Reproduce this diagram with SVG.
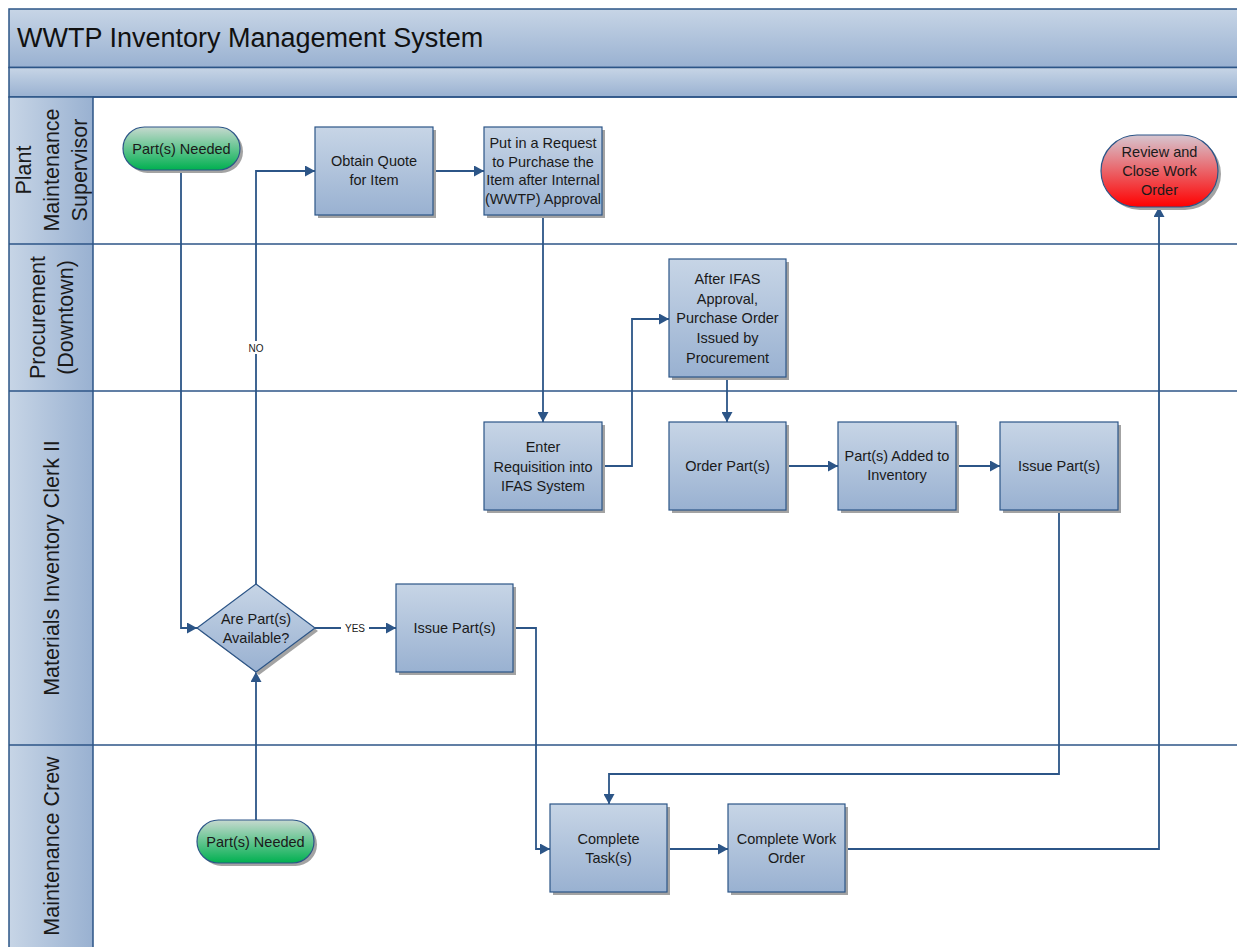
<svg xmlns="http://www.w3.org/2000/svg" width="1237" height="947" viewBox="0 0 1237 947">
<defs>
<linearGradient id="gBox" x1="0" y1="0" x2="0" y2="1">
<stop offset="0" stop-color="#c7d5e6"/>
<stop offset="1" stop-color="#99b1d1"/>
</linearGradient>
<linearGradient id="gLane" x1="0" y1="0" x2="1" y2="0">
<stop offset="0" stop-color="#c7d5e6"/>
<stop offset="1" stop-color="#99b1d1"/>
</linearGradient>
<linearGradient id="gGreen" x1="0" y1="0" x2="0" y2="1">
<stop offset="0" stop-color="#c6d9cf"/>
<stop offset="1" stop-color="#00b050"/>
</linearGradient>
<linearGradient id="gRed" x1="0" y1="0" x2="0" y2="1">
<stop offset="0" stop-color="#d6c6d0"/>
<stop offset="1" stop-color="#ff0000"/>
</linearGradient>
<marker id="arr" viewBox="0 0 10 11" refX="10" refY="5.5" markerWidth="10" markerHeight="11" markerUnits="userSpaceOnUse" orient="auto">
<path d="M0,0 L10,5.5 L0,11 z" fill="#2c5587"/>
</marker>
</defs>
<style>
.band{fill:url(#gBox);stroke:#2c5587;stroke-width:1.5}
.lanecol{fill:url(#gLane);stroke:#2c5587;stroke-width:1.5}
.div{stroke:#2c5587;stroke-width:1.5;fill:none}
.box{fill:url(#gBox);stroke:#2c5587;stroke-width:1.2}
.shadow{fill:#a3a3a3}
.green{fill:url(#gGreen);stroke:#2c5587;stroke-width:1.2}
.red{fill:url(#gRed);stroke:#2c5587;stroke-width:1.2}
.con{stroke:#2c5587;stroke-width:1.8;fill:none}
.t{font-family:"Liberation Sans",Arial,sans-serif;font-size:14.5px;fill:#1a1a1a;text-anchor:middle}
.lt{font-family:"Liberation Sans",Arial,sans-serif;font-size:21.5px;fill:#1a1a1a;text-anchor:middle}
.title{font-family:"Liberation Sans",Arial,sans-serif;font-size:27px;fill:#111}
.sm{font-family:"Liberation Sans",Arial,sans-serif;font-size:10px;fill:#1a1a1a;text-anchor:middle}
</style>
<rect width="1237" height="947" fill="#ffffff"/>

<g id="pool">
<rect class="band" x="9" y="9" width="1240" height="58.5"/>
<rect class="band" x="9" y="67.5" width="1240" height="29.5"/>
<text class="title" x="17" y="47">WWTP Inventory Management System</text>
<rect class="lanecol" x="9" y="97" width="84" height="860"/>
<line class="div" x1="93" y1="97" x2="1240" y2="97"/>
<line class="div" x1="9" y1="244" x2="1240" y2="244"/>
<line class="div" x1="9" y1="391" x2="1240" y2="391"/>
<line class="div" x1="9" y1="745" x2="1240" y2="745"/>
</g>

<g id="lane-labels">
<text class="lt" transform="translate(51,170) rotate(-90)"><tspan x="0" y="-20.5">Plant</tspan><tspan x="0" y="7.5">Maintenance</tspan><tspan x="0" y="35.5">Supervisor</tspan></text>
<text class="lt" transform="translate(51,317.5) rotate(-90)"><tspan x="0" y="-6.5">Procurement</tspan><tspan x="0" y="21.5">(Downtown)</tspan></text>
<text class="lt" transform="translate(51,568) rotate(-90)"><tspan x="0" y="7.5">Materials Inventory Clerk II</tspan></text>
<text class="lt" transform="translate(51,846) rotate(-90)"><tspan x="0" y="7.5">Maintenance Crew</tspan></text>
</g>

<g id="connectors">
<path class="con" d="M181,170 V628 H197" marker-end="url(#arr)"/>
<path class="con" d="M256,584 V171 H315" marker-end="url(#arr)"/>
<path class="con" d="M433,171 H484" marker-end="url(#arr)"/>
<path class="con" d="M543,215 V422" marker-end="url(#arr)"/>
<path class="con" d="M602,466 H632 V319 H669" marker-end="url(#arr)"/>
<path class="con" d="M727,377 V422" marker-end="url(#arr)"/>
<path class="con" d="M786,466 H838" marker-end="url(#arr)"/>
<path class="con" d="M956,466 H1000" marker-end="url(#arr)"/>
<path class="con" d="M1059,510 V774 H609 V804" marker-end="url(#arr)"/>
<path class="con" d="M315,628 H396" marker-end="url(#arr)"/>
<path class="con" d="M513,628 H536 V849 H550" marker-end="url(#arr)"/>
<path class="con" d="M667,849 H728" marker-end="url(#arr)"/>
<path class="con" d="M846,849 H1159 V207" marker-end="url(#arr)"/>
<path class="con" d="M256,820 V672" marker-end="url(#arr)"/>
<rect x="245" y="341" width="22" height="13" fill="#ffffff"/>
<text class="sm" x="256" y="351.5">NO</text>
<rect x="341" y="621" width="28" height="13" fill="#ffffff"/>
<text class="sm" x="355" y="631.5">YES</text>
</g>

<g id="start-supervisor">
<rect class="shadow" x="126" y="130" width="117" height="43" rx="21.5"/>
<rect class="green" x="123" y="127" width="117" height="43" rx="21.5"/>
<text class="t" x="181.5" y="154">Part(s) Needed</text>
</g>

<g id="obtain-quote">
<rect class="shadow" x="318" y="130" width="118" height="88"/>
<rect class="box" x="315" y="127" width="118" height="88"/>
<text class="t" x="374" y="166">Obtain Quote<tspan x="374" dy="19">for Item</tspan></text>
</g>

<g id="request-purchase">
<rect class="shadow" x="487" y="130" width="118" height="88"/>
<rect class="box" x="484" y="127" width="118" height="88"/>
<text class="t" x="543" y="148">Put in a Request<tspan x="543" dy="18.5">to Purchase the</tspan><tspan x="543" dy="18.5">Item after Internal</tspan><tspan x="543" dy="18.5">(WWTP) Approval</tspan></text>
</g>

<g id="review-close">
<rect class="shadow" x="1104" y="138" width="117" height="72" rx="36"/>
<rect class="red" x="1101" y="135" width="117" height="72" rx="36"/>
<text class="t" x="1159.5" y="157">Review and<tspan x="1159.5" dy="19">Close Work</tspan><tspan x="1159.5" dy="19">Order</tspan></text>
</g>

<g id="po-issued">
<rect class="shadow" x="672" y="262" width="117" height="118"/>
<rect class="box" x="669" y="259" width="117" height="118"/>
<text class="t" x="727.5" y="284">After IFAS<tspan x="727.5" dy="19.7">Approval,</tspan><tspan x="727.5" dy="19.7">Purchase Order</tspan><tspan x="727.5" dy="19.7">Issued by</tspan><tspan x="727.5" dy="19.7">Procurement</tspan></text>
</g>

<g id="enter-requisition">
<rect class="shadow" x="487" y="425" width="118" height="88"/>
<rect class="box" x="484" y="422" width="118" height="88"/>
<text class="t" x="543" y="452">Enter<tspan x="543" dy="19.5">Requisition into</tspan><tspan x="543" dy="19.5">IFAS System</tspan></text>
</g>

<g id="order-parts">
<rect class="shadow" x="672" y="425" width="117" height="88"/>
<rect class="box" x="669" y="422" width="117" height="88"/>
<text class="t" x="727.5" y="471">Order Part(s)</text>
</g>

<g id="parts-added">
<rect class="shadow" x="841" y="425" width="118" height="88"/>
<rect class="box" x="838" y="422" width="118" height="88"/>
<text class="t" x="897" y="461">Part(s) Added to<tspan x="897" dy="19">Inventory</tspan></text>
</g>

<g id="issue-parts-2">
<rect class="shadow" x="1003" y="425" width="118" height="88"/>
<rect class="box" x="1000" y="422" width="118" height="88"/>
<text class="t" x="1059" y="471">Issue Part(s)</text>
</g>

<g id="parts-available">
<polygon class="shadow" points="259,587 318,631 259,675 200,631"/>
<polygon class="box" points="256,584 315,628 256,672 197,628"/>
<text class="t" x="256" y="624">Are Part(s)<tspan x="256" dy="19">Available?</tspan></text>
</g>

<g id="issue-parts-1">
<rect class="shadow" x="399" y="587" width="117" height="88"/>
<rect class="box" x="396" y="584" width="117" height="88"/>
<text class="t" x="454.5" y="633">Issue Part(s)</text>
</g>

<g id="start-crew">
<rect class="shadow" x="200" y="823" width="117" height="43" rx="21.5"/>
<rect class="green" x="197" y="820" width="117" height="43" rx="21.5"/>
<text class="t" x="255.5" y="847">Part(s) Needed</text>
</g>

<g id="complete-tasks">
<rect class="shadow" x="553" y="807" width="117" height="88"/>
<rect class="box" x="550" y="804" width="117" height="88"/>
<text class="t" x="608.5" y="844">Complete<tspan x="608.5" dy="19">Task(s)</tspan></text>
</g>

<g id="complete-work-order">
<rect class="shadow" x="731" y="807" width="117" height="88"/>
<rect class="box" x="728" y="804" width="117" height="88"/>
<text class="t" x="786.5" y="844">Complete Work<tspan x="786.5" dy="19">Order</tspan></text>
</g>
</svg>
